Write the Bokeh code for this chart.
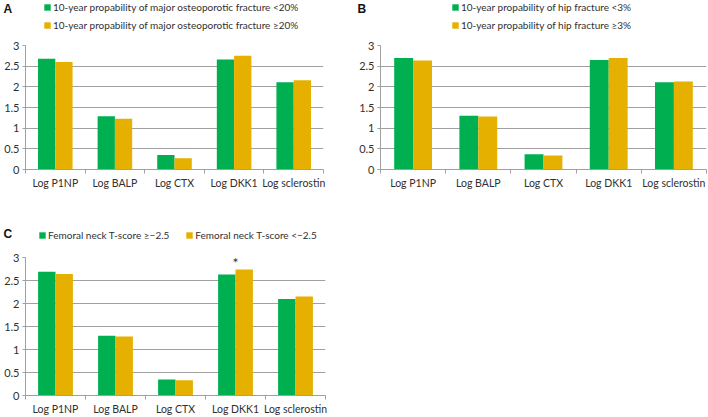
import numpy as np
from bokeh.plotting import figure
from bokeh.layouts import column, row
from bokeh.models import (Range1d, FixedTicker, CustomJSTickFormatter, Legend, LegendItem,
                          Label, ColumnDataSource)
from bokeh.transform import dodge
from bokeh.embed import file_html
from bokeh.resources import INLINE

categories = ["Log P1NP", "Log BALP", "Log CTX", "Log DKK1", "Log sclerostin"]

a_low = [2.68, 1.29, 0.35, 2.66, 2.11]
a_high = [2.60, 1.23, 0.27, 2.75, 2.16]
a_labels = ["10-year propability of major osteoporotic fracture <20%",
            "10-year propability of major osteoporotic fracture \u226520%"]

b_low = [2.70, 1.30, 0.37, 2.65, 2.11]
b_high = [2.64, 1.28, 0.34, 2.70, 2.13]
b_labels = ["10-year propability of hip fracture <3%",
            "10-year propability of hip fracture \u22653%"]

c_low = [2.69, 1.30, 0.35, 2.63, 2.10]
c_high = [2.64, 1.28, 0.33, 2.74, 2.15]
c_labels = ["Femoral neck T-score \u2265\u22122.5", "Femoral neck T-score <\u22122.5"]
c_star_index = 3

y_ticks = [0, 0.5, 1, 1.5, 2, 2.5, 3]

GREEN = "#00B050"
GOLD = "#E5B000"
GRID = "#A0A0A0"
TEXT = "#303030"
FONT = "Lato"


def source(low, high):
    return ColumnDataSource(dict(x=np.arange(len(categories)) + 0.5, low=low, high=high))


def bars(p, src, width=0.29):
    r1 = p.vbar(x=dodge("x", -0.145), top="low", width=width, source=src,
                fill_color=GREEN, line_color=None)
    r2 = p.vbar(x=dodge("x", 0.145), top="high", width=width, source=src,
                fill_color=GOLD, line_color=None)
    return r1, r2


def header(letter, labels, src, head_h, legend_loc, letter_y, horizontal=False):
    # legend strip above a chart; its bar renderers only lend their style to the legend
    h = figure(width=354, height=head_h, output_backend="svg", toolbar_location=None,
               x_range=Range1d(0, len(categories)), y_range=Range1d(-2, -1),
               x_axis_type=None, y_axis_type=None, min_border=0)
    h.outline_line_color = None
    h.xgrid.visible = False
    h.ygrid.visible = False
    g, y = bars(h, src, width=0)
    legend = Legend(items=[LegendItem(label=labels[0], renderers=[g], index=0),
                           LegendItem(label=labels[1], renderers=[y], index=0)],
                    location=legend_loc,
                    orientation="horizontal" if horizontal else "vertical",
                    padding=0, margin=0, glyph_width=8, glyph_height=8,
                    label_standoff=2, label_height=14,
                    spacing=16 if horizontal else 4,
                    background_fill_alpha=0, border_line_color=None,
                    label_text_font=FONT, label_text_font_size="10px",
                    label_text_color=TEXT)
    h.add_layout(legend)
    h.add_layout(Label(x=3, y=head_h - letter_y, x_units="screen", y_units="screen",
                       text=letter, text_font="Liberation Sans", text_font_style="bold",
                       text_font_size="12px", text_color="#111111",
                       text_baseline="middle", text_align="left"))
    return h


def chart(src, h, borders):
    bl, br, bt, bb = borders
    p = figure(width=354, height=h, output_backend="svg", toolbar_location=None,
               x_range=Range1d(0, len(categories)), y_range=Range1d(0, 3),
               min_border_left=bl, min_border_right=br, min_border_top=bt,
               min_border_bottom=bb)
    p.outline_line_color = None
    p.xgrid.grid_line_color = None
    p.ygrid.grid_line_color = GRID
    p.ygrid.ticker = FixedTicker(ticks=y_ticks)
    bars(p, src)

    xa = p.xaxis[0]
    xa.ticker = FixedTicker(ticks=list(np.arange(len(categories)) + 0.5),
                            minor_ticks=list(range(len(categories) + 1)))
    xa.formatter = CustomJSTickFormatter(args=dict(names=categories),
                                         code="return names[Math.floor(tick)]")
    xa.major_tick_line_color = None
    xa.major_tick_out = 0
    xa.major_tick_in = 0
    xa.minor_tick_line_color = GRID
    xa.minor_tick_out = 4
    xa.minor_tick_in = 0
    xa.axis_line_color = GRID
    xa.major_label_standoff = 3
    xa.major_label_text_font = FONT
    xa.major_label_text_font_size = "10.5px"
    xa.major_label_text_color = TEXT

    ya = p.yaxis[0]
    ya.ticker = FixedTicker(ticks=y_ticks)
    ya.formatter = CustomJSTickFormatter(code="return tick.toString()")
    ya.axis_line_color = GRID
    ya.major_tick_line_color = GRID
    ya.major_tick_out = 3
    ya.major_tick_in = 0
    ya.minor_tick_line_color = None
    ya.major_label_standoff = 3
    ya.major_label_text_font = FONT
    ya.major_label_text_font_size = "11px"
    ya.major_label_text_color = TEXT
    return p


sA, sB, sC = source(a_low, a_high), source(b_low, b_high), source(c_low, c_high)

hA = header("A", a_labels, sA, 36, (43, 4), 8)
hB = header("B", b_labels, sB, 36, (97, 4), 8)
hC = header("C", c_labels, sC, 33, (38, 0), 24, horizontal=True)
pA = chart(sA, 209 - 36, (25, 31, 8, 40))
pB = chart(sB, 209 - 36, (26, 2, 9, 40))
pC = chart(sC, 208 - 33, (25, 29, 15, 20))

pC.add_layout(Label(x=c_star_index + 0.5, y=max(c_low[c_star_index], c_high[c_star_index]) + 0.15,
                    text="*", text_font=FONT, text_font_size="14px", text_color=TEXT,
                    text_align="center", text_baseline="middle"))

lay = column(row(hA, hB), row(pA, pB), row(hC), row(pC))

open("out.html", "w").write(file_html(lay, INLINE))
